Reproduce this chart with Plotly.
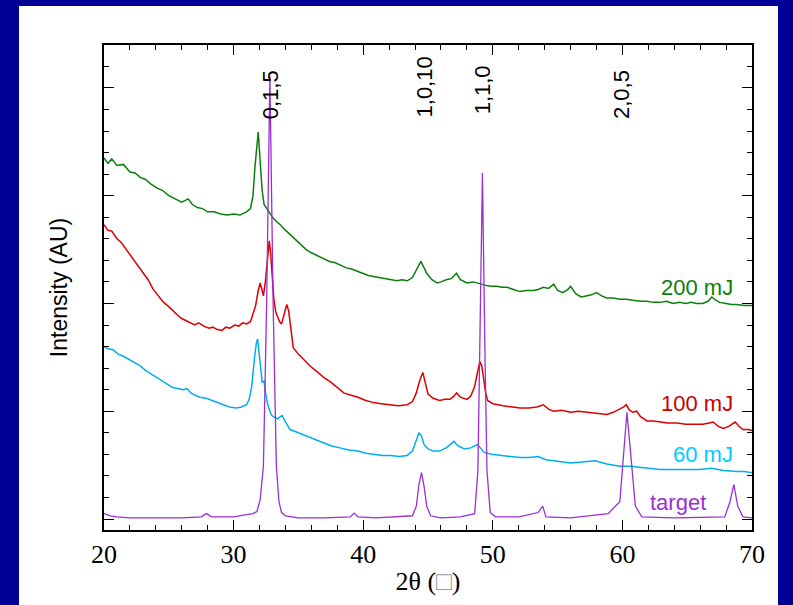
import plotly.graph_objects as go

# ---- data ----
two_theta_200 = [20, 20.3, 20.6, 21.0, 21.5, 22.0, 22.4, 22.8, 23.2, 23.6, 24.1, 24.5, 25.0, 25.5, 26.0,
                 26.5, 26.8, 27.2, 27.6, 28.0, 28.5, 29.0, 29.5, 30.0, 30.5, 31.0, 31.3, 31.5, 31.65,
                 31.9, 32.1, 32.2, 32.35, 32.6, 32.8, 33.0, 33.3, 33.6, 34.0, 34.35, 34.7, 35.0, 35.3,
                 35.6, 36.0, 36.5, 36.9, 37.4, 37.8, 38.2, 38.7, 39.1, 39.5, 40.0, 40.4, 40.8, 41.3,
                 41.7, 42.1, 42.6, 43.0, 43.4, 43.8, 44.1, 44.45, 44.7, 44.9, 45.3, 45.7, 46.0, 46.4,
                 46.8, 47.2, 47.5, 48.0, 48.5, 49.0, 49.4, 49.8, 50.3, 50.7, 51.1, 51.6, 52.1, 52.6,
                 53.1, 53.5, 53.9, 54.3, 54.7, 55.0, 55.4, 55.8, 56.0, 56.4, 56.8, 57.2, 57.6, 58.0,
                 58.4, 58.8, 59.3, 59.8, 60.3, 60.8, 61.4, 61.9, 62.4, 62.9, 63.4, 63.9, 64.4, 64.9,
                 65.3, 65.7, 66.2, 66.6, 66.9, 67.2, 67.5, 68.0, 68.4, 68.8, 69.4, 70]
int_200 = [3.35, 3.30, 3.34, 3.28, 3.29, 3.22, 3.21, 3.17, 3.15, 3.11, 3.07, 3.05, 3.00, 2.97, 2.94,
           2.97, 2.92, 2.89, 2.88, 2.85, 2.85, 2.83, 2.82, 2.83, 2.82, 2.85, 2.88, 3.00, 3.27,
           3.59, 3.27, 3.05, 2.92, 2.87, 2.84, 2.80, 2.76, 2.73, 2.68, 2.64, 2.60, 2.56, 2.53,
           2.50, 2.47, 2.44, 2.42, 2.39, 2.38, 2.36, 2.33, 2.32, 2.30, 2.28, 2.26, 2.25, 2.24,
           2.23, 2.22, 2.21, 2.22, 2.21, 2.24, 2.31, 2.39, 2.33, 2.28, 2.22, 2.19, 2.20, 2.22,
           2.23, 2.28, 2.22, 2.19, 2.20, 2.18, 2.17, 2.16, 2.16, 2.15, 2.15, 2.13, 2.11, 2.12,
           2.12, 2.13, 2.15, 2.14, 2.18, 2.12, 2.10, 2.13, 2.16, 2.09, 2.06, 2.07, 2.08, 2.10,
           2.07, 2.05, 2.05, 2.04, 2.04, 2.03, 2.02, 2.02, 2.01, 2.01, 2.02, 2.00, 2.01, 2.00,
           2.01, 2.00, 2.00, 2.02, 2.06, 2.03, 2.01, 2.00, 1.99, 1.99, 1.98, 1.98]

two_theta_100 = [20, 20.3, 20.6, 21.0, 21.3, 21.6, 22.0, 22.3, 22.7, 23.0, 23.4, 23.8, 24.2, 24.6, 25.0,
                 25.3, 25.6, 26.0, 26.3, 26.6, 27.0, 27.3, 27.7, 28.1, 28.4, 28.7, 29.1, 29.4, 29.7,
                 30.1, 30.4, 30.7, 31.0, 31.3, 31.5, 31.7, 31.9, 32.05, 32.2, 32.3, 32.45, 32.6, 32.75,
                 32.85, 32.95, 33.1, 33.25, 33.4, 33.55, 33.7, 33.9, 34.1, 34.25, 34.4, 34.6, 35.0,
                 35.4, 35.9, 36.5, 37.0, 37.5, 38.0, 38.5, 39.0, 39.6, 40.2, 40.8, 41.4, 42.1, 42.7,
                 43.4, 43.8, 44.1, 44.35, 44.6, 44.8, 45.0, 45.4, 45.9, 46.3, 46.7, 47.0, 47.2, 47.5,
                 48.0, 48.3, 48.6, 48.8, 49.0, 49.15, 49.3, 49.45, 49.6, 50.0, 50.4, 50.8, 51.5, 52.1,
                 52.8, 53.4, 53.9, 54.3, 54.7, 55.3, 56.0, 56.6, 57.3, 58.0, 58.8, 59.3, 59.8, 60.1,
                 60.3, 60.55, 60.8, 61.1, 61.4, 61.9, 62.4, 62.9, 63.5, 64.2, 64.9, 65.5, 66.2, 66.7,
                 67.0, 67.4, 67.8, 68.2, 68.7, 69.0, 69.3, 69.7, 70]
int_100 = [2.73, 2.68, 2.67, 2.60, 2.57, 2.52, 2.46, 2.40, 2.34, 2.29, 2.22, 2.13, 2.07, 2.01, 1.97,
           1.93, 1.90, 1.86, 1.84, 1.82, 1.80, 1.82, 1.79, 1.77, 1.78, 1.76, 1.75, 1.78, 1.77,
           1.80, 1.79, 1.82, 1.81, 1.83, 1.90, 1.98, 2.12, 2.19, 2.12, 2.07, 2.20, 2.41, 2.58,
           2.48, 2.28, 2.05, 1.92, 1.88, 1.83, 1.81, 1.90, 1.99, 1.93, 1.80, 1.59, 1.53,
           1.48, 1.42, 1.36, 1.31, 1.27, 1.22, 1.17, 1.15, 1.13, 1.10, 1.08, 1.07, 1.06, 1.05,
           1.06, 1.09, 1.17, 1.28, 1.36, 1.26, 1.16, 1.12, 1.10, 1.11, 1.11, 1.14, 1.17, 1.13,
           1.11, 1.14, 1.23, 1.35, 1.46, 1.42, 1.30, 1.17, 1.10, 1.07, 1.06, 1.05, 1.04, 1.03,
           1.03, 1.04, 1.06, 1.02, 1.00, 1.01, 0.99, 1.00, 0.99, 0.98, 0.97, 0.99, 1.02, 1.04,
           1.06, 1.01, 0.99, 1.00, 0.95, 0.91, 0.91, 0.90, 0.89, 0.89, 0.88, 0.88, 0.88, 0.89,
           0.90, 0.86, 0.84, 0.86, 0.90, 0.86, 0.83, 0.83, 0.82]

two_theta_60 = [20, 20.3, 20.7, 21.1, 21.5, 21.9, 22.3, 22.8, 23.2, 23.7, 24.1, 24.6, 25.0, 25.3, 25.7,
                26.1, 26.4, 26.7, 27.0, 27.4, 27.9, 28.3, 28.7, 29.2, 29.7, 30.2, 30.6, 31.0, 31.2,
                31.4, 31.6, 31.75, 31.85, 31.95, 32.05, 32.2, 32.35, 32.45, 32.6, 32.8, 32.95, 33.2,
                33.4, 33.6, 33.75, 34.0, 34.35, 34.8, 35.2, 35.6, 36.2, 36.9, 37.5, 38.2, 38.9, 39.6,
                40.2, 40.8, 41.5, 42.1, 42.8, 43.4, 43.8, 44.1, 44.3, 44.5, 44.7, 45.0, 45.4, 45.9,
                46.4, 46.8, 47.0, 47.3, 47.8, 48.3, 48.8, 49.05, 49.3, 49.9, 50.6, 51.3, 52.1, 52.8,
                53.5, 54.1, 54.7, 55.3, 56.0, 56.9, 57.9, 58.8, 59.8, 60.6, 61.4, 62.2, 62.9, 63.9,
                64.9, 65.9, 66.9, 67.8, 68.8, 69.4, 70]
int_60 = [1.60, 1.58, 1.57, 1.53, 1.51, 1.48, 1.45, 1.42, 1.38, 1.34, 1.31, 1.27, 1.24, 1.22, 1.21,
          1.20, 1.21, 1.17, 1.15, 1.13, 1.12, 1.10, 1.08, 1.06, 1.04, 1.03, 1.04, 1.06, 1.11,
          1.23, 1.48, 1.63, 1.67, 1.58, 1.45, 1.27, 1.28, 1.18, 1.08, 1.00, 0.96, 0.94,
          0.93, 0.95, 0.96, 0.90, 0.83, 0.81, 0.79, 0.77, 0.74, 0.71, 0.68, 0.66, 0.64, 0.63,
          0.61, 0.60, 0.59, 0.59, 0.58, 0.59, 0.63, 0.73, 0.80, 0.77, 0.69, 0.65, 0.63, 0.63,
          0.66, 0.70, 0.72, 0.68, 0.65, 0.66, 0.69, 0.66, 0.62, 0.60, 0.59, 0.58, 0.57, 0.57,
          0.58, 0.55, 0.54, 0.53, 0.52, 0.53, 0.54, 0.51, 0.49, 0.49, 0.48, 0.47, 0.46, 0.46,
          0.46, 0.46, 0.47, 0.45, 0.44, 0.44, 0.43]

two_theta_target = [20, 20.5, 21, 22, 24, 26, 27.5, 27.9, 28.3, 30, 31.0, 31.5, 31.8, 32.05, 32.3, 32.55,
                    32.8, 33.05, 33.3, 33.5, 33.7, 34.0, 35, 37, 39.0, 39.3, 39.6, 41, 43.8, 44.1,
                    44.3, 44.5, 44.7, 44.9, 45.2, 46, 47.5, 48.6, 48.85, 49.0, 49.2, 49.4, 49.55,
                    49.8, 50.2, 52, 53.5, 53.85, 54.1, 56, 58.9, 59.8, 60.1, 60.35, 60.65, 61.0,
                    61.5, 64, 67.9, 68.3, 68.6, 68.9, 69.3, 70]
int_target = [0.05, 0.03, 0.02, 0.01, 0.01, 0.01, 0.02, 0.05, 0.02, 0.02, 0.04, 0.05, 0.07, 0.18, 0.49, 2.0,
              4.11, 2.0, 0.49, 0.16, 0.06, 0.03, 0.01, 0.01, 0.02, 0.055, 0.02, 0.01, 0.03, 0.12,
              0.32, 0.43, 0.30, 0.12, 0.03, 0.01, 0.02, 0.05, 0.45, 1.5, 3.21, 1.5, 0.45,
              0.06, 0.02, 0.02, 0.06, 0.12, 0.02, 0.01, 0.05, 0.16, 0.59, 0.99, 0.59, 0.12,
              0.02, 0.01, 0.02, 0.16, 0.32, 0.12, 0.02, 0.01]

series_names = ["200 mJ", "100 mJ", "60 mJ", "target"]
series_colors = ["#0b7f0b", "#dd0000", "#00aeef", "#9a2fd6"]
label_colors = ["#0b7f0b", "#cc0000", "#00ccff", "#9a2fd6"]
label_x = [68.69, 68.69, 68.69, 66.6]
label_y = [2.15, 1.075, 0.595, 0.15]

peak_labels = ["0,1,5", "1,0,10", "1,1,0", "2,0,5"]
peak_x = [32.8, 44.7, 49.19, 59.94]
peak_y = [3.94, 4.005, 3.98, 3.94]

x_ticks = [20, 30, 40, 50, 60, 70]

# ---- figure ----
fig = go.Figure()
all_x = [two_theta_200, two_theta_100, two_theta_60, two_theta_target]
all_y = [int_200, int_100, int_60, int_target]
widths = [1.5, 1.5, 1.5, 1.3]
for name, xs, ys, col, lw in zip(series_names, all_x, all_y, series_colors, widths):
    fig.add_trace(go.Scatter(x=xs, y=ys, mode="lines", name=name,
                             line=dict(color=col, width=lw), showlegend=False))

W, H = 793, 605
ml, mr, mt, mb = 104, 41, 45, 75
pw, ph = W - ml - mr, H - mt - mb

def px_to_paper_x(px):
    return (px - ml) / pw

def px_to_paper_y(py):
    return (H - mb - py) / ph

fig.add_shape(type="rect", xref="paper", yref="paper",
              x0=px_to_paper_x(19), x1=px_to_paper_x(778),
              y0=px_to_paper_y(606), y1=px_to_paper_y(6),
              fillcolor="white", line=dict(width=0), layer="below")

SANS = "Liberation Sans"
SERIF = "Liberation Serif"

for txt, xx, yy, col in zip(series_names, label_x, label_y, label_colors):
    fig.add_annotation(x=xx, y=yy, xref="x", yref="y", text=txt, showarrow=False,
                       xanchor="right", yanchor="middle",
                       font=dict(family=SANS, size=22, color=col))

for txt, xx, yy in zip(peak_labels, peak_x, peak_y):
    fig.add_annotation(x=xx, y=yy, xref="x", yref="y", text=txt, showarrow=False,
                       textangle=-90, xanchor="center", yanchor="middle",
                       font=dict(family=SANS, size=22, color="black"))

fig.update_layout(
    width=W, height=H,
    margin=dict(l=ml, r=mr, t=mt, b=mb),
    paper_bgcolor="#000099",
    plot_bgcolor="white",
    xaxis=dict(range=[20, 70], tickvals=x_ticks, ticktext=[str(v) for v in x_ticks],
               ticks="inside", ticklen=10, tickwidth=1, tickcolor="black",
               showline=True, linecolor="black", linewidth=1.5, mirror="ticks",
               showgrid=False, zeroline=False,
               minor=dict(dtick=2, tick0=20, ticks="inside", ticklen=5, tickcolor="black", showgrid=False),
               tickfont=dict(family=SERIF, size=26, color="black"),
               title=dict(text='2θ (<span style="color:#999999">□</span>)',
                          font=dict(family=SERIF, size=26, color="black"),
                          standoff=4)),
    yaxis=dict(range=[-0.102, 4.398], tick0=0, dtick=1,
               ticks="inside", ticklen=10, tickwidth=1, tickcolor="black",
               showticklabels=False,
               showline=True, linecolor="black", linewidth=1.5, mirror="ticks",
               showgrid=False, zeroline=False,
               minor=dict(dtick=0.2, tick0=0, ticks="inside", ticklen=5, tickcolor="black", showgrid=False),
               title=dict(text="Intensity (AU)",
                          font=dict(family=SANS, size=23, color="black"),
                          standoff=28)),
)

fig.write_html("out.html", config={"displayModeBar": False},
               post_script="document.body.style.margin='0px';document.body.style.background='#000099';")
